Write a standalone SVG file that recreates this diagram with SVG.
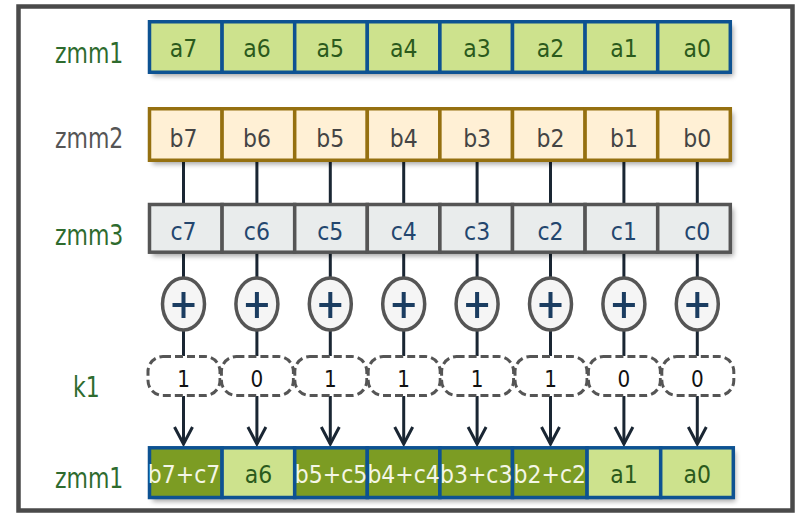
<svg xmlns="http://www.w3.org/2000/svg" width="798" height="514" viewBox="0 0 798 514">
<defs>
<filter id="sh" x="-5%" y="-20%" width="110%" height="150%">
<feDropShadow dx="3" dy="4" stdDeviation="2.5" flood-color="#000" flood-opacity="0.35"/>
</filter>
<style>
.frame{fill:#fff;stroke:#4a4a4a;stroke-width:4.5}
.lbl{font-family:"DejaVu Sans",Verdana,sans-serif;font-size:22px}
.g{fill:#2e6b2e}
.gy{fill:#555}
.ct{font-family:"DejaVu Sans",Verdana,sans-serif;font-size:22px;text-anchor:middle}
.a{fill:#cde28d;stroke:#0d5292;stroke-width:3.5}
.at{fill:#2b5a1c}
.d{fill:#7c9c23;stroke:#0d5292;stroke-width:3.5}
.dt{fill:#f4f6e6}
.b{fill:#fff0d5;stroke:#957010;stroke-width:3.5}
.bt{fill:#444}
.c{fill:#e9ecec;stroke:#555;stroke-width:3.5}
.cc{fill:#23466e}
.op{fill:#f5f5f5;stroke:#555;stroke-width:3.5}
.plus{stroke:#1b3d61;stroke-width:4;fill:none}
.k{fill:#fff;stroke:#555;stroke-width:3;stroke-dasharray:8 4}
.kt{fill:#111;font-size:20px}
.ln{stroke:#1a2633;stroke-width:3;fill:none}
</style>
</defs>
<rect class="frame" x="18.5" y="6.5" width="774" height="504"/>

<g id="labels">
<text class="lbl g" transform="translate(55 63) scale(1 1.28)">zmm1</text>
<text class="lbl gy" transform="translate(55 148) scale(1 1.28)">zmm2</text>
<text class="lbl g" transform="translate(55 245) scale(1 1.28)">zmm3</text>
<text class="lbl g" transform="translate(73 397) scale(1 1.28)">k1</text>
<text class="lbl g" transform="translate(55 488) scale(1 1.28)">zmm1</text>
</g>

<g id="connectors">
<path class="ln" d="M183.5 162V204M256.9 162V204M330.3 162V204M403.7 162V204M477.1 162V204M550.5 162V204M623.9 162V204M697.3 162V204"/>
<path class="ln" d="M183.5 252V279M256.9 252V279M330.3 252V279M403.7 252V279M477.1 252V279M550.5 252V279M623.9 252V279M697.3 252V279"/>
<path class="ln" d="M183.5 329V356M256.9 329V356M330.3 329V356M403.7 329V356M477.1 329V356M550.5 329V356M623.9 329V356M697.3 329V356"/>
<path class="ln" d="M183.5 396V444M256.9 396V444M330.3 396V444M403.7 396V444M477.1 396V444M550.5 396V444M623.9 396V444M697.3 396V444"/>
<path class="ln" d="M174.5 427L183.5 444L192.5 427M247.9 427L256.9 444L265.9 427M321.3 427L330.3 444L339.3 427M394.7 427L403.7 444L412.7 427M468.1 427L477.1 444L486.1 427M541.5 427L550.5 444L559.5 427M614.9 427L623.9 444L632.9 427M688.3 427L697.3 444L706.3 427"/>
</g>

<g id="zmm1-src">
<rect x="149.5" y="21.75" width="580.8" height="50.5" fill="#cde28d" filter="url(#sh)"/>
<rect class="a" x="149.5" y="21.75" width="72.6" height="50.5"/>
<rect class="a" x="222.1" y="21.75" width="72.6" height="50.5"/>
<rect class="a" x="294.7" y="21.75" width="72.6" height="50.5"/>
<rect class="a" x="367.3" y="21.75" width="72.6" height="50.5"/>
<rect class="a" x="439.9" y="21.75" width="72.6" height="50.5"/>
<rect class="a" x="512.5" y="21.75" width="72.6" height="50.5"/>
<rect class="a" x="585.1" y="21.75" width="72.6" height="50.5"/>
<rect class="a" x="657.7" y="21.75" width="72.6" height="50.5"/>
<text class="ct at" transform="translate(183.5 57) scale(1 1.12)">a7</text>
<text class="ct at" transform="translate(256.9 57) scale(1 1.12)">a6</text>
<text class="ct at" transform="translate(330.3 57) scale(1 1.12)">a5</text>
<text class="ct at" transform="translate(403.7 57) scale(1 1.12)">a4</text>
<text class="ct at" transform="translate(477.1 57) scale(1 1.12)">a3</text>
<text class="ct at" transform="translate(550.5 57) scale(1 1.12)">a2</text>
<text class="ct at" transform="translate(623.9 57) scale(1 1.12)">a1</text>
<text class="ct at" transform="translate(697.3 57) scale(1 1.12)">a0</text>
</g>

<g id="zmm2">
<rect x="149.5" y="108.75" width="580.8" height="51.5" fill="#fff0d5" filter="url(#sh)"/>
<rect class="b" x="149.5" y="108.75" width="72.6" height="51.5"/>
<rect class="b" x="222.1" y="108.75" width="72.6" height="51.5"/>
<rect class="b" x="294.7" y="108.75" width="72.6" height="51.5"/>
<rect class="b" x="367.3" y="108.75" width="72.6" height="51.5"/>
<rect class="b" x="439.9" y="108.75" width="72.6" height="51.5"/>
<rect class="b" x="512.5" y="108.75" width="72.6" height="51.5"/>
<rect class="b" x="585.1" y="108.75" width="72.6" height="51.5"/>
<rect class="b" x="657.7" y="108.75" width="72.6" height="51.5"/>
<text class="ct bt" transform="translate(183.5 147) scale(1 1.12)">b7</text>
<text class="ct bt" transform="translate(256.9 147) scale(1 1.12)">b6</text>
<text class="ct bt" transform="translate(330.3 147) scale(1 1.12)">b5</text>
<text class="ct bt" transform="translate(403.7 147) scale(1 1.12)">b4</text>
<text class="ct bt" transform="translate(477.1 147) scale(1 1.12)">b3</text>
<text class="ct bt" transform="translate(550.5 147) scale(1 1.12)">b2</text>
<text class="ct bt" transform="translate(623.9 147) scale(1 1.12)">b1</text>
<text class="ct bt" transform="translate(697.3 147) scale(1 1.12)">b0</text>
</g>

<g id="zmm3">
<rect x="149.5" y="204.5" width="581" height="47.7" fill="#e9ecec" filter="url(#sh)"/>
<rect class="c" x="149.5" y="204.5" width="72.6" height="47.7"/>
<rect class="c" x="222.1" y="204.5" width="72.6" height="47.7"/>
<rect class="c" x="294.7" y="204.5" width="72.6" height="47.7"/>
<rect class="c" x="367.3" y="204.5" width="72.6" height="47.7"/>
<rect class="c" x="439.9" y="204.5" width="72.6" height="47.7"/>
<rect class="c" x="512.5" y="204.5" width="72.6" height="47.7"/>
<rect class="c" x="585.1" y="204.5" width="72.6" height="47.7"/>
<rect class="c" x="657.7" y="204.5" width="72.6" height="47.7"/>
<text class="ct cc" transform="translate(183.5 240) scale(1 1.12)">c7</text>
<text class="ct cc" transform="translate(256.9 240) scale(1 1.12)">c6</text>
<text class="ct cc" transform="translate(330.3 240) scale(1 1.12)">c5</text>
<text class="ct cc" transform="translate(403.7 240) scale(1 1.12)">c4</text>
<text class="ct cc" transform="translate(477.1 240) scale(1 1.12)">c3</text>
<text class="ct cc" transform="translate(550.5 240) scale(1 1.12)">c2</text>
<text class="ct cc" transform="translate(623.9 240) scale(1 1.12)">c1</text>
<text class="ct cc" transform="translate(697.3 240) scale(1 1.12)">c0</text>
</g>

<g id="adders">
<ellipse class="op" cx="183.5" cy="304" rx="21" ry="26"/>
<ellipse class="op" cx="256.9" cy="304" rx="21" ry="26"/>
<ellipse class="op" cx="330.3" cy="304" rx="21" ry="26"/>
<ellipse class="op" cx="403.7" cy="304" rx="21" ry="26"/>
<ellipse class="op" cx="477.1" cy="304" rx="21" ry="26"/>
<ellipse class="op" cx="550.5" cy="304" rx="21" ry="26"/>
<ellipse class="op" cx="623.9" cy="304" rx="21" ry="26"/>
<ellipse class="op" cx="697.3" cy="304" rx="21" ry="26"/>
<path class="plus" d="M172.5 305H194.5M183.5 292V318M245.9 305H267.9M256.9 292V318M319.3 305H341.3M330.3 292V318M392.7 305H414.7M403.7 292V318M466.1 305H488.1M477.1 292V318M539.5 305H561.5M550.5 292V318M612.9 305H634.9M623.9 292V318M686.3 305H708.3M697.3 292V318"/>
</g>

<g id="k1">
<rect class="k" x="148" y="356.5" width="72" height="39" rx="15"/>
<rect class="k" x="221.4" y="356.5" width="72" height="39" rx="15"/>
<rect class="k" x="294.8" y="356.5" width="72" height="39" rx="15"/>
<rect class="k" x="368.2" y="356.5" width="72" height="39" rx="15"/>
<rect class="k" x="441.6" y="356.5" width="72" height="39" rx="15"/>
<rect class="k" x="515" y="356.5" width="72" height="39" rx="15"/>
<rect class="k" x="588.4" y="356.5" width="72" height="39" rx="15"/>
<rect class="k" x="661.8" y="356.5" width="72" height="39" rx="15"/>
<text class="ct kt" transform="translate(183.5 387) scale(1 1.15)">1</text>
<text class="ct kt" transform="translate(256.9 387) scale(1 1.15)">0</text>
<text class="ct kt" transform="translate(330.3 387) scale(1 1.15)">1</text>
<text class="ct kt" transform="translate(403.7 387) scale(1 1.15)">1</text>
<text class="ct kt" transform="translate(477.1 387) scale(1 1.15)">1</text>
<text class="ct kt" transform="translate(550.5 387) scale(1 1.15)">1</text>
<text class="ct kt" transform="translate(623.9 387) scale(1 1.15)">0</text>
<text class="ct kt" transform="translate(697.3 387) scale(1 1.15)">0</text>
</g>

<g id="zmm1-dst">
<rect x="149.5" y="447.8" width="583" height="49.7" fill="#cde28d" filter="url(#sh)"/>
<rect class="d" x="149.5" y="447.8" width="72.6" height="49.7"/>
<rect class="a" x="222.1" y="447.8" width="72.6" height="49.7"/>
<rect class="d" x="294.7" y="447.8" width="72.6" height="49.7"/>
<rect class="d" x="367.3" y="447.8" width="72.6" height="49.7"/>
<rect class="d" x="439.9" y="447.8" width="72.6" height="49.7"/>
<rect class="d" x="512.5" y="447.8" width="74.6" height="49.7"/>
<rect class="a" x="587.1" y="447.8" width="73.6" height="49.7"/>
<rect class="a" x="660.7" y="447.8" width="72.6" height="49.7"/>
<text class="ct dt" transform="translate(184 483) scale(1 1.12)">b7+c7</text>
<text class="ct at" transform="translate(258.4 483) scale(1 1.12)">a6</text>
<text class="ct dt" transform="translate(331 483) scale(1 1.12)">b5+c5</text>
<text class="ct dt" transform="translate(403.6 483) scale(1 1.12)">b4+c4</text>
<text class="ct dt" transform="translate(476.2 483) scale(1 1.12)">b3+c3</text>
<text class="ct dt" transform="translate(549.8 483) scale(1 1.12)">b2+c2</text>
<text class="ct at" transform="translate(623.9 483) scale(1 1.12)">a1</text>
<text class="ct at" transform="translate(697.3 483) scale(1 1.12)">a0</text>
</g>
</svg>
